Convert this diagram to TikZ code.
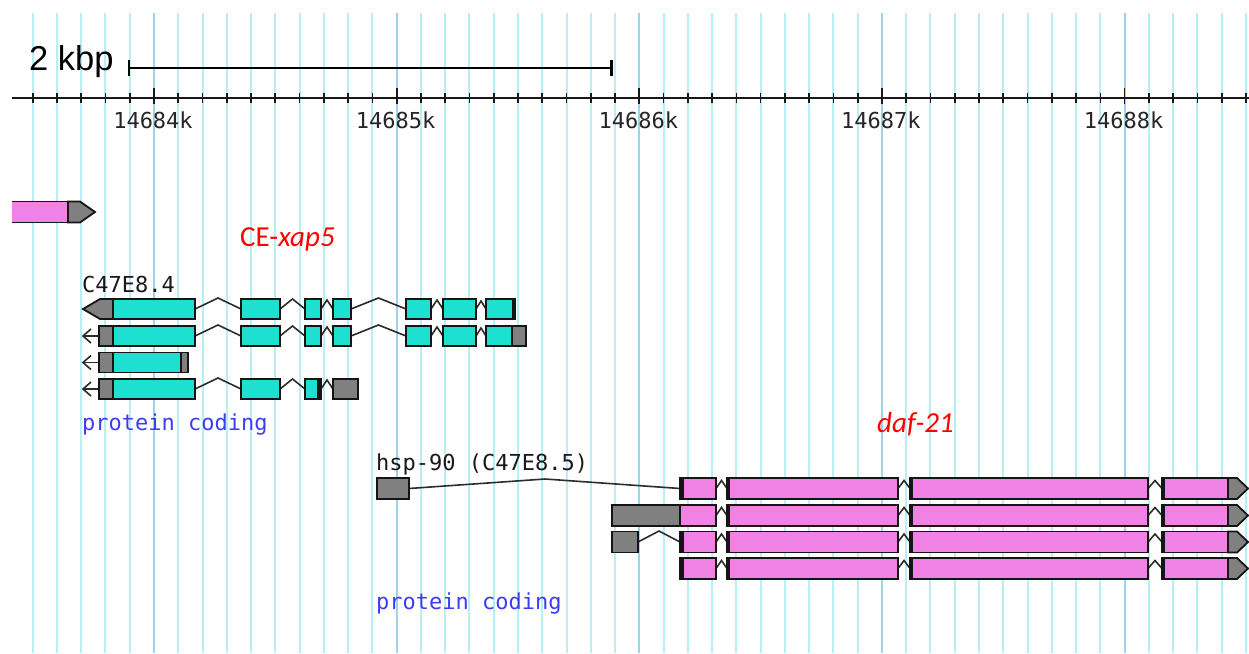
\documentclass[tikz,border=0pt]{standalone}
\usepackage{fontspec}
\setmainfont{Liberation Sans}
\newfontfamily\gdmono{DejaVu Sans Mono}
\newfontfamily\calfont{Carlito}
\definecolor{gridc}{HTML}{B8EFF4}
\definecolor{gridmaj}{HTML}{9CD4EC}
\definecolor{cdsc}{HTML}{1EE0D0}
\definecolor{pinkc}{HTML}{F082E6}
\definecolor{greyc}{HTML}{808080}
\definecolor{outc}{HTML}{151515}
\definecolor{bluet}{HTML}{3C3CF5}
\definecolor{redt}{HTML}{FF0000}
\tikzset{
  gridline/.style={draw=gridc,line width=2pt},
  gridmajor/.style={draw=gridmaj,line width=2pt},
  rulerline/.style={draw=black!90,line width=2pt},
  tickline/.style={draw=black!90,line width=1.7pt},
  exonbox/.style={draw=outc,line width=1.8pt},
  intron/.style={draw=outc!90,line width=1.6pt},
  monolabel/.style={font=\gdmono\fontsize{22}{22}\selectfont,inner sep=0pt,anchor=base west},
  rulerlabel/.style={font=\gdmono\fontsize{22}{22}\selectfont,text=black!85,inner sep=0pt,anchor=base},
  genelabel/.style={font=\calfont\fontsize{29}{29}\selectfont,text=redt,inner sep=0pt,anchor=base west},
}
\newcommand\ex[5]{\draw[exonbox,fill=#1] (#2,#4) rectangle (#3,#5);}
\newcommand\ihat[4]{\draw[intron] (#1,#3) -- ({(#1+#2)/2},{#3-#4}) -- (#2,#3);}
\newcommand\leftarr[2]{\draw[intron] (#1,#2) -- (83,#2); \draw[intron] (91,{#2-7}) -- (83,#2) -- (91,{#2+7});}
\begin{document}
\begin{tikzpicture}[x=1pt,y=-1pt]
\useasboundingbox (0,0) rectangle (1249,653);
% grid
\foreach \k in {-5,...,45}{
  \pgfmathsetmacro\xx{154+24.265*\k}
  \draw[gridline] (\xx,13) -- (\xx,653);
}
\foreach \k in {0,10,20,30,40}{
  \pgfmathsetmacro\xx{154+24.265*\k}
  \draw[gridmajor] (\xx,13) -- (\xx,653);
}
% scale bar
\node[font=\fontsize{34.5}{34.5}\selectfont,inner sep=0pt,anchor=base west] (scalelab) at (29,70.5) {2 kbp};
\coordinate (sbl) at (129,68);
\coordinate (sbr) at (611.5,68);
\draw[line width=2.2pt] (sbl) -- (sbr);
\draw[line width=2.2pt] (129,60) -- (129,76);
\draw[line width=2.2pt] (611.5,59.5) -- (611.5,76);
% ruler
\draw[rulerline] (12,98) -- (1249,98);
\foreach \k in {-5,...,45}{
  \pgfmathsetmacro\xx{154+24.265*\k}
  \draw[tickline] (\xx,93) -- (\xx,103);
}
\foreach \k/\lab in {0/14684k,10/14685k,20/14686k,30/14687k,40/14688k}{
  \pgfmathsetmacro\xx{154+24.265*\k}
  \draw[tickline] (\xx,88) -- (\xx,104);
  \node[rulerlabel] (r\k) at (\xx-1,128) {\lab};
}
% top-left partial gene
\fill[pinkc] (12,201.5) rectangle (68,222.5);
\draw[exonbox] (12,201.5) -- (68,201.5) (12,222.5) -- (68,222.5);
\draw[exonbox,fill=greyc] (68,201.5) -- (80,201.5) -- (95,212) -- (80,222.5) -- (68,222.5) -- cycle;
% labels
\node[genelabel] (xap) at (240,246) {CE-\textit{xap5}};
\node[monolabel,text=black!90] (c474) at (82,292) {C47E8.4};
\node[monolabel,text=bluet] (pc1) at (82,430) {protein coding};
\node[monolabel,text=black!90] (hsp) at (376,470) {hsp-90 (C47E8.5)};
\node[monolabel,text=bluet] (pc2) at (376,609) {protein coding};
\node[genelabel] (daf) at (877,432) {\textit{daf-21}};
% ---- C47E8.4 row 1
\ihat{195}{241}{309}{11}
\ihat{280}{305}{309}{10}
\ihat{321}{333}{309}{9}
\ihat{351}{406}{309}{11}
\ihat{431}{443}{309}{9}
\ihat{476}{486}{309}{8}
\draw[exonbox,fill=greyc] (113,299) -- (100,299) -- (83,309) -- (100,319) -- (113,319) -- cycle;
\ex{cdsc}{113}{195}{299}{319}
\ex{cdsc}{241}{280}{299}{319}
\ex{cdsc}{305}{321}{299}{319}
\ex{cdsc}{333}{351}{299}{319}
\ex{cdsc}{406}{431}{299}{319}
\ex{cdsc}{443}{476}{299}{319}
\ex{cdsc}{486}{515}{299}{319}
\fill[outc] (512,299) rectangle (515.5,319);
% ---- row 2
\leftarr{99}{336}
\ihat{195}{241}{336}{11}
\ihat{280}{305}{336}{10}
\ihat{321}{333}{336}{9}
\ihat{351}{406}{336}{11}
\ihat{431}{443}{336}{9}
\ihat{476}{486}{336}{8}
\ex{greyc}{99}{113}{326}{346}
\ex{cdsc}{113}{195}{326}{346}
\ex{cdsc}{241}{280}{326}{346}
\ex{cdsc}{305}{321}{326}{346}
\ex{cdsc}{333}{351}{326}{346}
\ex{cdsc}{406}{431}{326}{346}
\ex{cdsc}{443}{476}{326}{346}
\ex{cdsc}{486}{512}{326}{346}
\ex{greyc}{512}{526}{326}{346}
% ---- row 3
\leftarr{99}{362.5}
\ex{greyc}{99}{113}{352.5}{372.5}
\ex{cdsc}{113}{181}{352.5}{372.5}
\ex{greyc}{181}{188}{352.5}{372.5}
% ---- row 4
\leftarr{99}{389}
\ihat{195}{241}{389}{11}
\ihat{280}{305}{389}{10}
\ihat{321}{333}{389}{9}
\ex{greyc}{99}{113}{379}{399}
\ex{cdsc}{113}{195}{379}{399}
\ex{cdsc}{241}{280}{379}{399}
\ex{cdsc}{305}{321}{379}{399}
\fill[outc] (317,379) rectangle (321,399);
\ex{greyc}{333}{358}{379}{399}
% ---- hsp-90 rows
\draw[intron] (409,488.5) -- (545,479) -- (680,488.5);
\ex{greyc}{377}{409}{478}{499}
\ex{greyc}{612}{680}{505}{526}
\ihat{638}{680}{542}{11}
\ex{greyc}{612}{638}{531.5}{552.5}
\foreach \tp in {478,505,531.5,558}{
  \pgfmathsetmacro\bt{\tp+21}
  \pgfmathsetmacro\cc{\tp+10.5}
  \ihat{716}{727}{\cc}{8}
  \ihat{898}{910}{\cc}{8}
  \ihat{1148}{1162}{\cc}{8}
  \ex{pinkc}{680}{716}{\tp}{\bt}
  \ex{pinkc}{727}{898}{\tp}{\bt}
  \ex{pinkc}{910}{1148}{\tp}{\bt}
  \ex{pinkc}{1162}{1228}{\tp}{\bt}
  \fill[outc] (727,\tp) rectangle (730,\bt);
  \fill[outc] (910,\tp) rectangle (913,\bt);
  \fill[outc] (1162,\tp) rectangle (1165,\bt);
  \draw[exonbox,fill=greyc] (1228,\tp) -- (1237,\tp) -- (1248,\cc) -- (1237,\bt) -- (1228,\bt) -- cycle;
}
\foreach \tp in {478,531.5,558}{
  \pgfmathsetmacro\bt{\tp+21}
  \fill[outc] (680,\tp) rectangle (684,\bt);
}
\end{tikzpicture}
\end{document}
